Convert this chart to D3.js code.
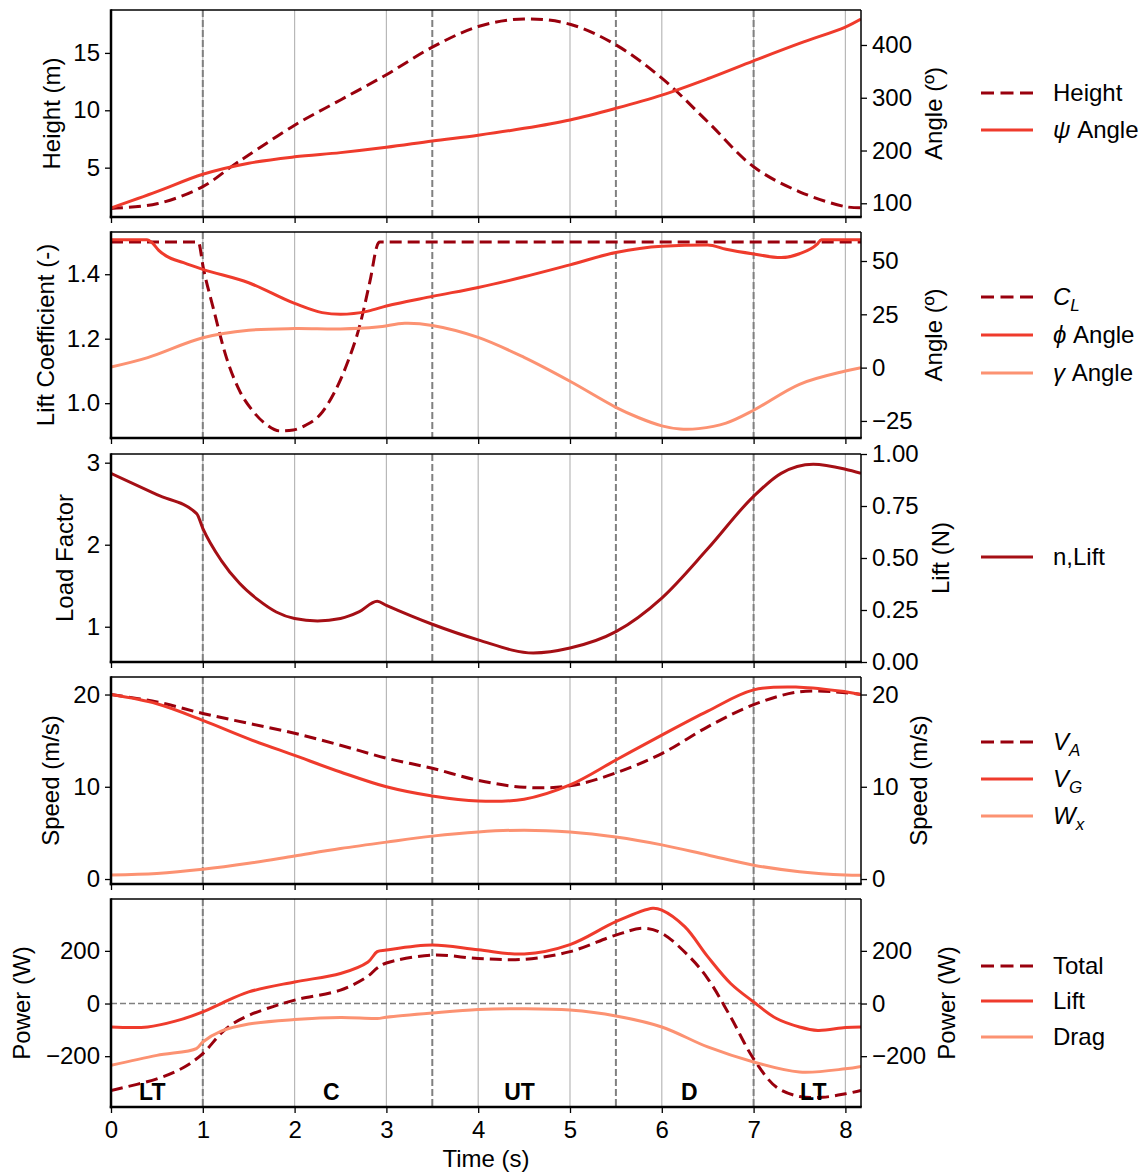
<!DOCTYPE html>
<html>
<head>
<meta charset="utf-8">
<script src="https://cdn.jsdelivr.net/npm/d3@7"></script>
<style>
  body { margin: 0; background: #fff; }
  text { font-family: "Liberation Sans", Arial, sans-serif; }
</style>
</head>
<body>
<div id="chart"></div>
<script>
// ---- data ----
var tMax = 8.17;
var xTicks = [0, 1, 2, 3, 4, 5, 6, 7, 8];
var phaseBounds = [1, 3.5, 5.5, 7];
var phaseNames = ["LT", "C", "UT", "D", "LT"];
var phaseAt = [0.45, 2.4, 4.45, 6.3, 7.65];

// panel 1
var heightT = [0, 0.5, 1, 1.33, 1.5, 2, 2.5, 3, 3.5, 4, 4.5, 5, 5.5, 6, 6.5, 7, 7.5, 8, 8.17];
var heightV = [1.45, 1.85, 3.35, 5.2, 6.1, 8.7, 10.9, 13.1, 15.5, 17.3, 17.96, 17.5, 15.7, 12.8, 9.0, 5.08, 2.9, 1.6, 1.5];
var psiT = [0, 0.5, 1, 1.5, 2, 2.5, 3, 3.5, 4, 4.5, 5, 5.5, 6, 6.5, 7, 7.5, 8, 8.17];
var psiV = [91, 122, 155, 176, 188, 196, 206, 218, 229, 242, 258, 280, 305, 336, 370, 403, 434, 449];

// panel 2
var clT = [0, 0.951, 1.006, 1.114, 1.26, 1.405, 1.55, 1.696, 1.84, 1.986, 2.13, 2.277, 2.42, 2.567, 2.712, 2.82, 2.912, 2.93, 8.17];
var clV = [1.5, 1.5, 1.419, 1.295, 1.139, 1.036, 0.974, 0.933, 0.914, 0.917, 0.933, 0.964, 1.026, 1.119, 1.243, 1.377, 1.497, 1.5, 1.5];
var phiT = [0, 0.39, 0.45, 0.52, 0.6, 0.79, 1.0, 1.5, 2.0, 2.3, 2.5, 2.8, 3, 3.5, 4, 4.5, 5, 5.5, 6, 6.5, 6.7, 7, 7.3, 7.5, 7.69, 7.74, 8.17];
var phiV = [60, 60, 58.5, 55, 52.4, 49.2, 46.1, 39.8, 30.1, 25.8, 25, 26.5, 28.9, 33.4, 37.6, 42.6, 48.2, 54, 56.9, 57.5, 55.5, 53.3, 51.6, 53.4, 57.8, 60, 60];
var gammaT = [0, 0.4, 1, 1.5, 2, 2.5, 2.9, 3.2, 3.5, 4, 4.5, 5, 5.5, 5.75, 6, 6.2, 6.4, 6.7, 7, 7.5, 8, 8.17];
var gammaV = [0.3, 4.7, 14, 17.5, 18.3, 18.1, 19, 20.8, 19.8, 14.2, 4.8, -6.4, -18.6, -23.5, -27.3, -28.8, -28.6, -26, -20, -7.8, -1.6, 0];

// panel 3
var loadT = [0, 0.5, 0.933, 1.0, 1.2, 1.4, 1.6, 1.8, 2.0, 2.25, 2.5, 2.7, 2.9, 3.0, 3.5, 4, 4.6, 5, 5.5, 6, 6.5, 7, 7.3, 7.65, 8, 8.17];
var loadV = [2.87, 2.61, 2.38, 2.2, 1.81, 1.53, 1.33, 1.18, 1.10, 1.07, 1.10, 1.18, 1.31, 1.26, 1.03, 0.84, 0.68, 0.74, 0.94, 1.35, 1.95, 2.59, 2.87, 2.98, 2.92, 2.87];

// panel 4
var speedT = [0, 0.5, 1, 1.5, 2, 2.5, 3, 3.5, 4, 4.5, 5, 5.5, 6, 6.5, 7, 7.5, 8, 8.17];
var vaV = [20, 19.2, 17.95, 16.87, 15.8, 14.5, 13.1, 12.0, 10.7, 9.95, 10.1, 11.5, 13.6, 16.5, 18.9, 20.3, 20.2, 20.0];
var vgV = [20, 19.0, 17.2, 15.2, 13.4, 11.6, 10.0, 9.0, 8.45, 8.65, 10.2, 12.9, 15.6, 18.2, 20.5, 20.8, 20.3, 20.0];
var wxV = [0.43, 0.6, 1.05, 1.7, 2.5, 3.3, 4.0, 4.65, 5.1, 5.3, 5.1, 4.55, 3.7, 2.6, 1.5, 0.8, 0.43, 0.4];

// panel 5
var totalT = [0, 0.5, 0.8, 1, 1.2, 1.33, 1.5, 1.7, 2, 2.5, 2.8, 2.9, 3, 3.5, 4, 4.5, 5, 5.5, 5.8, 6, 6.3, 6.5, 6.75, 7, 7.25, 7.5, 7.75, 8, 8.17];
var totalV = [-330, -286, -241, -190, -113, -76, -45, -19, 13, 51, 104, 135, 154, 184, 171, 168, 197, 260, 286, 267, 178, 95, -51, -210, -318, -353, -356, -343, -330];
var liftT = [0, 0.4, 0.7, 1, 1.2, 1.5, 2, 2.5, 2.8, 2.9, 3, 3.5, 4, 4.5, 5, 5.5, 5.9, 6, 6.25, 6.5, 6.75, 7, 7.25, 7.5, 7.7, 8, 8.17];
var liftV = [-89, -89, -67, -32, 0, 44, 82, 114, 158, 197, 203, 222, 204, 188, 224, 311, 362, 355, 292, 178, 76, 6, -57, -89, -102, -91, -89];
var dragT = [0, 0.5, 0.93, 1, 1.2, 1.5, 2, 2.5, 2.9, 3, 3.5, 4, 4.5, 5, 5.5, 6, 6.5, 7, 7.5, 8, 8.17];
var dragV = [-235, -197, -171, -146, -105, -78, -61, -53, -57, -52, -36, -23, -20, -25, -47, -89, -165, -222, -260, -248, -239];

// ---- layout ----
var W = 1148, H = 1175;
var X0 = 111, X1 = 861;
var DARK = "#99000d", NRED = "#a50f15", RED = "#ef3b2c", LIGHT = "#fc9272";
var FS = 24;

var svg = d3.select("#chart").append("svg")
  .attr("width", W).attr("height", H);

var x = d3.scaleLinear().domain([0, tMax]).range([X0, X1]);

var smooth = d3.curveCatmullRom.alpha(0.5);
var flat = d3.curveMonotoneX;

var panels = [
  { top: 10, bottom: 217, left: [0.7, 18.74], right: [74, 466.3],
    lTicks: [5, 10, 15], rTicks: [100, 200, 300, 400], lFmt: "d", rFmt: "d",
    lLabel: "Height (m)", rLabel: "Angle (º)", lx: 52, rx: 934,
    series: [
      { t: heightT, v: heightV, axis: "l", color: DARK, dash: true, name: "Height" },
      { t: psiT, v: psiV, axis: "r", color: RED, name: "ψ Angle" }
    ],
    legendY: [93, 130] },
  { top: 232, bottom: 438, left: [0.892, 1.531], right: [-33, 63.6],
    lTicks: [1.0, 1.2, 1.4], rTicks: [-25, 0, 25, 50], lFmt: ".1f", rFmt: "d",
    lLabel: "Lift Coefficient (-)", rLabel: "Angle (º)", lx: 46, rx: 934,
    series: [
      { t: clT, v: clV, axis: "l", color: DARK, dash: true, name: "C_L", kinked: true },
      { t: phiT, v: phiV, axis: "r", color: RED, name: "ϕ Angle", kinked: true },
      { t: gammaT, v: gammaV, axis: "r", color: LIGHT, name: "γ Angle" }
    ],
    legendY: [297, 335, 373] },
  { top: 454, bottom: 662, left: [0.57, 3.106], right: [0, 1],
    lTicks: [1, 2, 3], rTicks: [0, 0.25, 0.5, 0.75, 1], lFmt: "d", rFmt: ".2f",
    lLabel: "Load Factor", rLabel: "Lift (N)", lx: 65, rx: 941,
    series: [
      { t: loadT, v: loadV, axis: "l", color: NRED, name: "n,Lift", kinked: true }
    ],
    legendY: [557] },
  { top: 677, bottom: 884, left: [-0.54, 21.9], right: [-0.54, 21.9],
    lTicks: [0, 10, 20], rTicks: [0, 10, 20], lFmt: "d", rFmt: "d",
    lLabel: "Speed (m/s)", rLabel: "Speed (m/s)", lx: 51, rx: 919,
    series: [
      { t: speedT, v: vaV, axis: "l", color: DARK, dash: true, name: "V_A" },
      { t: speedT, v: vgV, axis: "l", color: RED, name: "V_G" },
      { t: speedT, v: wxV, axis: "l", color: LIGHT, name: "W_x" }
    ],
    legendY: [742, 779, 816] },
  { top: 899, bottom: 1107, left: [-393, 397], right: [-393, 397],
    lTicks: [-200, 0, 200], rTicks: [-200, 0, 200], lFmt: "d", rFmt: "d",
    lLabel: "Power (W)", rLabel: "Power (W)", lx: 22, rx: 947, zero: true, phases: true,
    series: [
      { t: totalT, v: totalV, axis: "l", color: DARK, dash: true, name: "Total" },
      { t: liftT, v: liftV, axis: "l", color: RED, name: "Lift" },
      { t: dragT, v: dragV, axis: "l", color: LIGHT, name: "Drag" }
    ],
    legendY: [966, 1001, 1037] }
];

function styleAxis(ax) {
  ax.select(".domain").remove();
  ax.selectAll(".tick line").attr("stroke", "#000").attr("stroke-width", 1.3);
  ax.selectAll(".tick text").attr("fill", "#000")
    .style("font-family", '"Liberation Sans", Arial, sans-serif')
    .style("font-size", FS + "px");
}

function legendLabel(sel, name) {
  var m = name.match(/^(\w)_(\w)$/);
  if (m) {
    sel.append("tspan").style("font-style", "italic").text(m[1]);
    sel.append("tspan").style("font-style", "italic").style("font-size", "17px")
      .attr("dy", 6).text(m[2]);
    return;
  }
  m = name.match(/^([ψϕγ]) (.*)$/);
  if (m) {
    sel.append("tspan").style("font-style", "italic").text(m[1]);
    sel.append("tspan").text(" " + m[2]);
    return;
  }
  sel.text(name);
}

panels.forEach(function(p, i) {
  var yL = d3.scaleLinear().domain(p.left).range([p.bottom, p.top]);
  var yR = d3.scaleLinear().domain(p.right).range([p.bottom, p.top]);
  var g = svg.append("g");

  svg.append("clipPath").attr("id", "clip" + i)
    .append("rect").attr("x", X0).attr("y", p.top)
    .attr("width", X1 - X0).attr("height", p.bottom - p.top);

  // vertical grid at whole seconds
  g.selectAll(".grid").data(xTicks.filter(function(d) { return d > 0; }))
    .enter().append("line")
    .attr("x1", function(d) { return x(d); }).attr("x2", function(d) { return x(d); })
    .attr("y1", p.top).attr("y2", p.bottom)
    .attr("stroke", "#b8b8b8").attr("stroke-width", 1.2);

  // phase boundaries
  g.selectAll(".phase").data(phaseBounds).enter().append("line")
    .attr("x1", function(d) { return x(d); }).attr("x2", function(d) { return x(d); })
    .attr("y1", p.top).attr("y2", p.bottom)
    .attr("stroke", "#808080").attr("stroke-width", 2)
    .attr("stroke-dasharray", "7,3");

  if (p.zero) {
    g.append("line")
      .attr("x1", X0).attr("x2", X1).attr("y1", yL(0)).attr("y2", yL(0))
      .attr("stroke", "#808080").attr("stroke-width", 1.5)
      .attr("stroke-dasharray", "6,3");
  }

  // series
  p.series.forEach(function(s) {
    var y = s.axis === "r" ? yR : yL;
    var line = d3.line()
      .x(function(d) { return x(d[0]); })
      .y(function(d) { return y(d[1]); })
      .curve(s.kinked ? flat : smooth);
    g.append("path").datum(d3.zip(s.t, s.v))
      .attr("clip-path", "url(#clip" + i + ")")
      .attr("d", line)
      .attr("fill", "none")
      .attr("stroke", s.color)
      .attr("stroke-width", 3)
      .attr("stroke-dasharray", s.dash ? "12,6" : null);
  });

  if (p.phases) {
    g.selectAll(".plabel").data(phaseNames).enter().append("text")
      .attr("x", function(d, k) { return x(phaseAt[k]); })
      .attr("y", p.bottom - 7)
      .attr("text-anchor", "middle")
      .style("font-weight", "bold").style("font-size", "23px")
      .text(function(d) { return d; });
  }

  // axes
  var axL = g.append("g").attr("transform", "translate(" + X0 + ",0)")
    .call(d3.axisLeft(yL).tickValues(p.lTicks).tickFormat(d3.format(p.lFmt))
      .tickSize(6).tickPadding(5));
  styleAxis(axL);
  var axR = g.append("g").attr("transform", "translate(" + X1 + ",0)")
    .call(d3.axisRight(yR).tickValues(p.rTicks).tickFormat(d3.format(p.rFmt))
      .tickSize(6).tickPadding(5));
  styleAxis(axR);
  var last = i === panels.length - 1;
  var axB = g.append("g").attr("transform", "translate(0," + p.bottom + ")")
    .call(d3.axisBottom(x).tickValues(xTicks)
      .tickFormat(last ? d3.format("d") : function() { return ""; })
      .tickSize(6).tickPadding(8));
  styleAxis(axB);

  // spines
  g.append("line").attr("x1", X0).attr("x2", X1).attr("y1", p.top).attr("y2", p.top)
    .attr("stroke", "#000").attr("stroke-width", 1.5);
  g.append("line").attr("x1", X1).attr("x2", X1).attr("y1", p.top).attr("y2", p.bottom)
    .attr("stroke", "#000").attr("stroke-width", 1.5);
  g.append("line").attr("x1", X0).attr("x2", X0).attr("y1", p.top - 0.75).attr("y2", p.bottom + 1.25)
    .attr("stroke", "#000").attr("stroke-width", 2.5);
  g.append("line").attr("x1", X0 - 1.25).attr("x2", X1 + 0.75).attr("y1", p.bottom).attr("y2", p.bottom)
    .attr("stroke", "#000").attr("stroke-width", 2.5);

  // axis labels
  var cy = (p.top + p.bottom) / 2;
  g.append("text").attr("transform", "translate(" + p.lx + "," + cy + ") rotate(-90)")
    .attr("text-anchor", "middle").attr("dy", "0.35em")
    .style("font-size", FS + "px").text(p.lLabel);
  g.append("text").attr("transform", "translate(" + p.rx + "," + cy + ") rotate(-90)")
    .attr("text-anchor", "middle").attr("dy", "0.35em")
    .style("font-size", FS + "px").text(p.rLabel);

  // legend
  p.series.forEach(function(s, k) {
    var ly = p.legendY[k];
    g.append("line").attr("x1", 981).attr("x2", 1033).attr("y1", ly).attr("y2", ly)
      .attr("stroke", s.color).attr("stroke-width", 3)
      .attr("stroke-dasharray", s.dash ? "13,6.5" : null);
    var t = g.append("text").attr("x", 1053).attr("y", ly).attr("dy", "0.35em")
      .style("font-size", FS + "px");
    legendLabel(t, s.name);
  });
});

svg.append("text").attr("x", (X0 + X1) / 2).attr("y", 1167)
  .attr("text-anchor", "middle").style("font-size", FS + "px").text("Time (s)");
</script>
</body>
</html>
